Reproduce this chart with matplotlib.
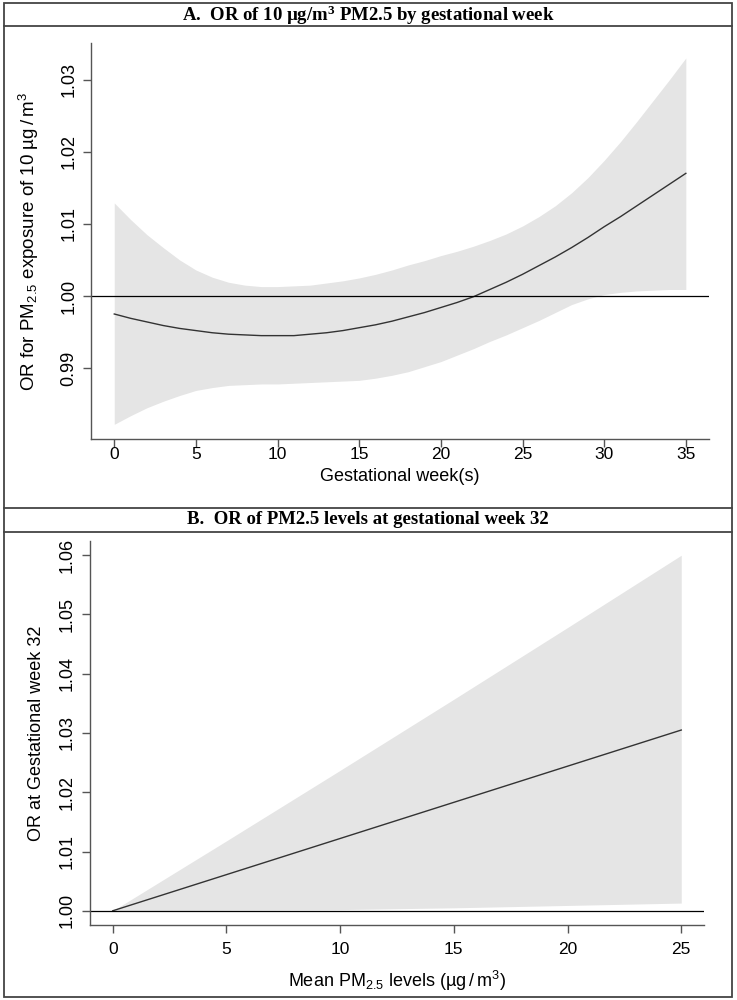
import numpy as np
import matplotlib
matplotlib.use('Agg')
import matplotlib.pyplot as plt
from matplotlib.lines import Line2D
from matplotlib.patches import Rectangle

plt.rcParams['font.family'] = ['Liberation Sans', 'DejaVu Sans']
plt.rcParams['mathtext.default'] = 'regular'

# panel A: OR of 10 ug/m3 PM2.5 by gestational week
week = list(range(0, 36))
or_week = [0.9975, 0.9969, 0.9964, 0.9959, 0.9955, 0.9952, 0.9949, 0.9947, 0.9946, 0.9945,
           0.9945, 0.9945, 0.9947, 0.9949, 0.9952, 0.9956, 0.9960, 0.9965, 0.9971, 0.9977,
           0.9984, 0.9991, 0.9999, 1.0009, 1.0019, 1.0030, 1.0042, 1.0054, 1.0067, 1.0081,
           1.0096, 1.0110, 1.0125, 1.0140, 1.0155, 1.0170]
upper_week = [1.0129, 1.0106, 1.0085, 1.0067, 1.0050, 1.0036, 1.0026, 1.0019, 1.0015, 1.0013,
              1.0013, 1.0014, 1.0015, 1.0018, 1.0021, 1.0025, 1.0030, 1.0036, 1.0043, 1.0049,
              1.0056, 1.0062, 1.0069, 1.0077, 1.0086, 1.0097, 1.0110, 1.0125, 1.0143, 1.0164,
              1.0188, 1.0214, 1.0242, 1.0271, 1.0300, 1.0330]
lower_week = [0.9822, 0.9834, 0.9845, 0.9854, 0.9862, 0.9869, 0.9873, 0.9876, 0.9877, 0.9878,
              0.9878, 0.9879, 0.9880, 0.9881, 0.9882, 0.9883, 0.9886, 0.9890, 0.9895, 0.9902,
              0.9909, 0.9918, 0.9927, 0.9937, 0.9946, 0.9956, 0.9966, 0.9977, 0.9988, 0.9996,
              1.0002, 1.0005, 1.0007, 1.0008, 1.0009, 1.0009]

# panel B: OR of PM2.5 levels at gestational week 32
pm = [0, 5, 10, 15, 20, 25]
or_pm = [1.0000, 1.0061, 1.0122, 1.0183, 1.0244, 1.0305]
upper_pm = [1.0000, 1.0118, 1.0237, 1.0357, 1.0478, 1.0600]
lower_pm = [1.0000, 1.0001, 1.0002, 1.0005, 1.0009, 1.0013]

W, H = 737, 1000
fig = plt.figure(figsize=(W / 100, H / 100), dpi=100)

def frac(x0, y0, x1, y1):
    # pixel box (top-left origin) -> figure fraction rect
    return [x0 / W, 1 - y1 / H, (x1 - x0) / W, (y1 - y0) / H]

def rlim(lo, hi):
    pad = (hi - lo) * 0.04
    return lo - pad, hi + pad

def style(ax, xpad):
    for s in ['top', 'right']:
        ax.spines[s].set_visible(False)
    for s in ['left', 'bottom']:
        ax.spines[s].set_color('#555555')
        ax.spines[s].set_linewidth(1.0)
    ax.tick_params(direction='out', length=6, width=1.0, color='#555555')
    ax.tick_params(axis='x', labelsize=12.5, pad=xpad)
    ax.tick_params(axis='y', labelsize=13, pad=4)
    plt.setp(ax.get_yticklabels(), rotation=90, va='center')

axA = fig.add_axes(frac(91.4, 43.3, 708.7, 439))
axA.fill_between(week, lower_week, upper_week, color='#e5e5e5', lw=0)
axA.plot(week, or_week, color='#333333', lw=1.0)
axA.axhline(1.0, color='black', lw=0.9)
axA.set_xlim(*rlim(0, 35))
axA.set_ylim(*rlim(min(lower_week), max(upper_week)))
axA.set_xticks(range(0, 36, 5))
axA.set_yticks([0.99, 1.00, 1.01, 1.02, 1.03])
axA.set_yticklabels(['0.99', '1.00', '1.01', '1.02', '1.03'])
style(axA, 0)
axA.set_xlabel('Gestational week(s)', fontsize=13, labelpad=4)
axA.set_ylabel('OR for PM$_{2.5}$ exposure of 10 µg$\\,$/$\\,$m$^{3}$', fontsize=13.5, labelpad=14)

axB = fig.add_axes(frac(90, 541, 704, 925))
axB.fill_between(pm, lower_pm, upper_pm, color='#e5e5e5', lw=0)
axB.plot(pm, or_pm, color='#333333', lw=1.0)
axB.axhline(1.0, color='black', lw=0.9)
axB.set_xlim(*rlim(0, 25))
axB.set_ylim(*rlim(min(lower_pm), max(upper_pm)))
axB.set_xticks(range(0, 26, 5))
axB.set_yticks([1.00, 1.01, 1.02, 1.03, 1.04, 1.05, 1.06])
axB.set_yticklabels(['1.00', '1.01', '1.02', '1.03', '1.04', '1.05', '1.06'])
style(axB, 6)
axB.set_xlabel('Mean PM$_{2.5}$ levels (µg$\\,$/$\\,$m$^{3}$)', fontsize=13, labelpad=9)
axB.set_ylabel('OR at Gestational week 32', fontsize=13, labelpad=10)

# frame and title bands
box_col = '#444444'
fig.add_artist(Rectangle((4.3 / W, 1 - 997 / H), (731.7 - 4.3) / W, (997 - 3.3) / H,
                         transform=fig.transFigure, fill=False, ec=box_col, lw=1.3))
for yy in [26, 508, 532]:
    fig.add_artist(Line2D([4.3 / W, 731.7 / W], [1 - yy / H, 1 - yy / H],
                          transform=fig.transFigure, color=box_col, lw=1.3))

fig.text(368 / W, 1 - 15 / H, 'A.  OR of 10 µg/m$^{3}$ PM2.5 by gestational week',
         ha='center', va='center', fontsize=13.5, fontweight='bold',
         family=['Liberation Serif', 'DejaVu Serif'])
fig.text(368 / W, 1 - 520 / H, 'B.  OR of PM2.5 levels at gestational week 32',
         ha='center', va='center', fontsize=13.5, fontweight='bold',
         family=['Liberation Serif', 'DejaVu Serif'])

fig.savefig('out.png', dpi=100)
